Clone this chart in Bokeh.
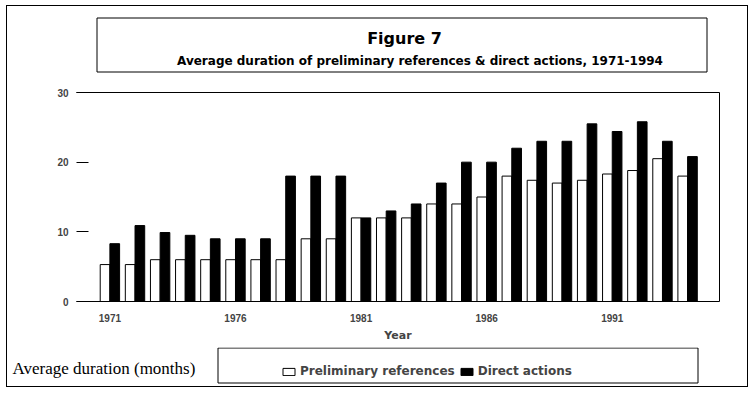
from bokeh.plotting import figure
from bokeh.layouts import column
from bokeh.models import (ColumnDataSource, LinearAxis, FixedTicker, Legend,
                          LegendItem, Range1d)
from bokeh.core.properties import value
from bokeh.transform import dodge
from bokeh.embed import file_html
from bokeh.resources import INLINE

# ---- data ----
years = list(range(1971, 1995))
preliminary = [5.3, 5.3, 6.0, 6.0, 6.0, 6.0, 6.0, 6.0, 9.0, 9.0, 12.0, 12.0,
               12.0, 14.0, 14.0, 15.0, 18.0, 17.4, 17.0, 17.4, 18.3, 18.8, 20.5, 18.0]
direct = [8.3, 10.9, 9.9, 9.5, 9.0, 9.0, 9.0, 18.0, 18.0, 18.0, 12.0, 13.0,
          14.0, 17.0, 20.0, 20.0, 22.0, 23.0, 23.0, 25.5, 24.4, 25.8, 23.0, 20.8]
year_ticks = [1971, 1976, 1981, 1986, 1991]
value_ticks = [0, 10, 20, 30]
series_names = ["Preliminary references", "Direct actions"]
title_text = "Figure 7"
subtitle_text = "Average duration of preliminary references & direct actions, 1971-1994"
x_label = "Year"
y_label = "Average duration (months)"

W = 740          # inner width of the outer frame
SANS = "DejaVu Sans"

src = ColumnDataSource(dict(year=years, preliminary=preliminary, direct=direct))


def canvas_fig(y0, y1):
    """A figure whose frame fills its canvas; page pixel coordinates as data."""
    f = figure(width=W, height=y1 - y0, output_backend="svg", toolbar_location=None,
               x_range=Range1d(7, 7 + W), y_range=Range1d(y1, y0),
               x_axis_type=None, y_axis_type=None, min_border=0,
               outline_line_color=None, background_fill_color="white",
               border_fill_color="white", frame_align=False)
    f.grid.visible = False
    return f


# ---------------- title part ----------------
top = canvas_fig(6, 80)
top.quad(left=[96.5], right=[706.5], top=[17.5], bottom=[71.5],
         fill_color=None, line_color="black", line_width=1)
top.text(x=[404], y=[38], text=[title_text], text_align="center",
         text_baseline="middle", text_font=value(SANS), text_font_style="bold",
         text_font_size="16px", text_color="black")
top.text(x=[419.5], y=[60], text=[subtitle_text], text_align="center",
         text_baseline="middle", text_font=value(SANS), text_font_style="bold",
         text_font_size="12px", text_color="black")

# ---------------- chart part ----------------
p = figure(width=W, height=347 - 80, output_backend="svg", toolbar_location=None,
           x_range=Range1d(1969.67, 1995.27), y_range=Range1d(0, 30),
           min_border_left=69, min_border_right=28, min_border_top=12,
           min_border_bottom=46, background_fill_color="white",
           border_fill_color="white", outline_line_color=None, frame_align=False)
p.xgrid.visible = False
p.ygrid.visible = False

bw = 0.386
r1 = p.vbar(x=dodge("year", -bw / 2, range=p.x_range), top="preliminary", bottom=0,
            width=bw, source=src, fill_color="white", line_color="black", line_width=1)
r2 = p.vbar(x=dodge("year", bw / 2, range=p.x_range), top="direct", bottom=0,
            width=bw, source=src, fill_color="black", line_color="black", line_width=1)

xa = p.xaxis[0]
xa.ticker = FixedTicker(ticks=year_ticks)
xa.major_tick_line_color = None
xa.major_tick_out = 0
xa.major_tick_in = 0
xa.minor_tick_line_color = None
xa.minor_tick_out = 0
xa.axis_line_color = "black"
xa.major_label_text_font = "Liberation Sans"
xa.major_label_text_font_style = "bold"
xa.major_label_text_font_size = "10px"
xa.major_label_standoff = 12
xa.axis_label = x_label
xa.axis_label_text_font = SANS
xa.axis_label_text_font_style = "bold"
xa.axis_label_text_font_size = "11px"
xa.axis_label_standoff = 4

ya = p.yaxis[0]
ya.ticker = FixedTicker(ticks=value_ticks)
ya.axis_line_color = None
ya.major_tick_in = 12
ya.major_tick_out = 0
ya.major_tick_line_color = "black"
ya.minor_tick_line_color = None
ya.minor_tick_out = 0
ya.major_label_text_font = "Liberation Sans"
ya.major_label_text_font_style = "bold"
ya.major_label_text_font_size = "10px"
ya.major_label_standoff = 8

for loc in ("right", "above"):
    ax = LinearAxis(ticker=FixedTicker(ticks=[]), major_label_text_font_size="0px",
                    major_label_standoff=0, major_tick_out=0, major_tick_in=0,
                    minor_tick_out=0, minor_tick_in=0,
                    major_tick_line_color=None, minor_tick_line_color=None,
                    axis_line_color="black")
    p.add_layout(ax, loc)

# ---------------- legend part ----------------
bot = canvas_fig(347, 386)
bot.quad(left=[217.5], right=[697.5], top=[347.5], bottom=[382.5],
         fill_color=None, line_color="black", line_width=1)
bot.text(x=[12], y=[368], text=[y_label], text_align="left", text_baseline="middle",
         text_font=value("Liberation Serif"), text_font_size="17px", text_color="black")
# legend proxies: same series, same styles (they fall outside this panel's range)
k1 = bot.vbar(x="year", top="preliminary", bottom=0, width=bw, source=src,
              fill_color="white", line_color="black", line_width=1)
k2 = bot.vbar(x="year", top="direct", bottom=0, width=bw, source=src,
              fill_color="black", line_color="black", line_width=1)
legend = Legend(items=[LegendItem(label=series_names[0], renderers=[k1]),
                       LegendItem(label=series_names[1], renderers=[k2])],
                orientation="horizontal", location=(274, 8), padding=0, margin=0,
                spacing=4, glyph_width=15, glyph_height=9, label_standoff=4,
                label_text_font=SANS, label_text_font_style="bold",
                label_text_font_size="12px", border_line_color=None,
                background_fill_alpha=0)
bot.add_layout(legend)

layout = column(top, p, bot, spacing=0,
                styles={"margin-left": "6px", "margin-top": "5px",
                        "border": "1px solid black"})

open("out.html", "w").write(file_html(layout, INLINE))
